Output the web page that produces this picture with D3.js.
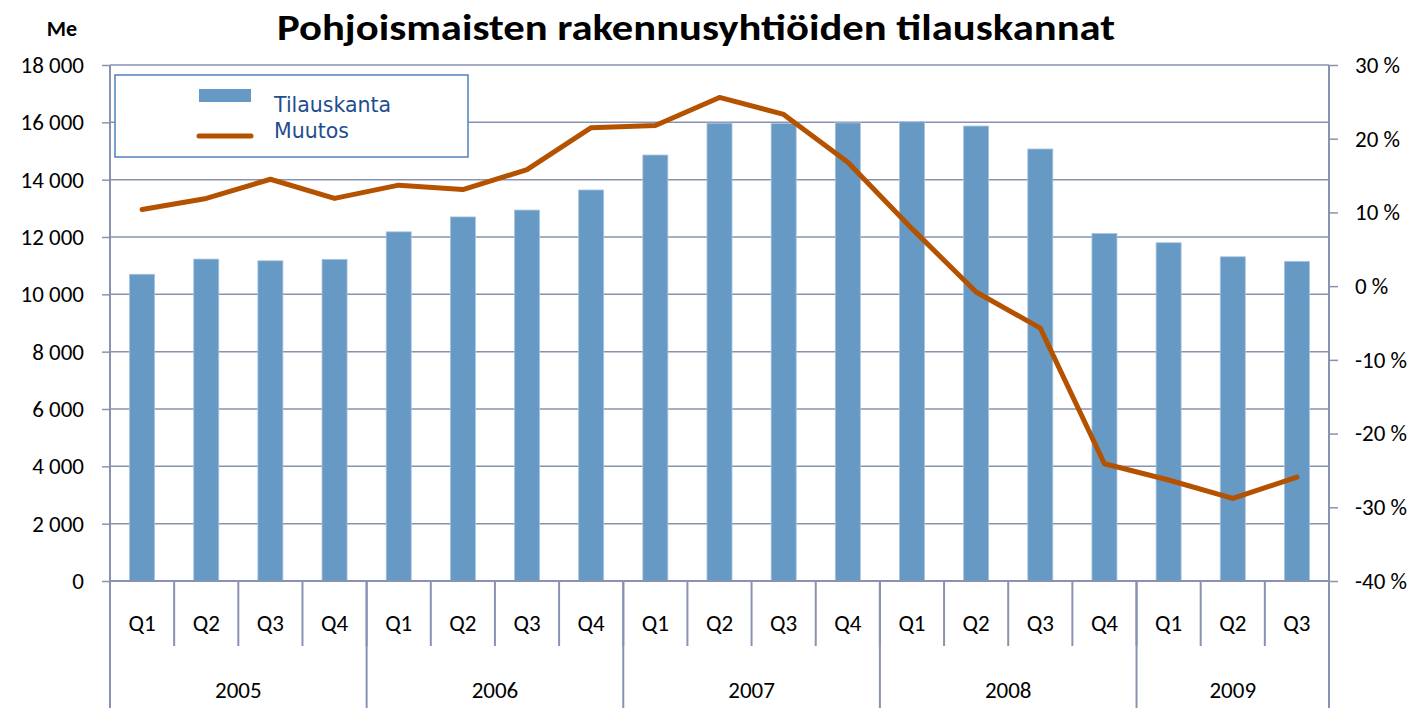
<!DOCTYPE html>
<html>
<head>
<meta charset="utf-8">
<script src="https://cdnjs.cloudflare.com/ajax/libs/d3/7.8.5/d3.min.js"></script>
<style>
  html, body { margin: 0; padding: 0; background: #fff; }
  svg { display: block; }
  text { font-family: Carlito, Lato, "Open Sans", sans-serif; fill: #000; }
</style>
</head>
<body>
<svg id="chart" width="1418" height="708"></svg>
<script>
const quarters = ["Q1","Q2","Q3","Q4","Q1","Q2","Q3","Q4","Q1","Q2","Q3","Q4","Q1","Q2","Q3","Q4","Q1","Q2","Q3"];
const years = ["2005","2006","2007","2008","2009"];
const quartersPerYear = [4,4,4,4,3];
const tilauskanta = [10700,11230,11170,11220,12180,12700,12940,13640,14860,15970,15960,15980,16020,15870,15070,12120,11800,11310,11150];
const muutos = [10.4,11.9,14.5,11.9,13.7,13.1,15.8,21.5,21.8,25.6,23.3,16.8,7.8,-0.8,-5.7,-24.1,-26.3,-28.8,-25.9];
const leftTicks = [0,2000,4000,6000,8000,10000,12000,14000,16000,18000];
const rightTicks = [-40,-30,-20,-10,0,10,20,30];
const seriesNames = ["Tilauskanta","Muutos"];
const title = "Pohjoismaisten rakennusyhtiöiden tilauskannat";
const unitLabel = "Me";

const svg = d3.select("#chart");
const L = 110, R = 1329, T = 65, B = 581;
const gridColor = "#8a92b2";
const barColor = "#6699c4";
const lineColor = "#b55200";
const tickFont = 23;

const idx = d3.range(quarters.length);
const x = d3.scaleBand().domain(idx).range([L, R]).padding(0);
const yL = d3.scaleLinear().domain([0, 18000]).range([B, T]);
const yR = d3.scaleLinear().domain([-40, 30]).range([B, T]);

const fmtThousands = d => d3.format(",")(d).replace(/,/g, " ");

// gridlines
svg.append("g").selectAll("line").data(leftTicks).join("line")
  .attr("x1", L).attr("x2", R)
  .attr("y1", d => yL(d)).attr("y2", d => yL(d))
  .attr("stroke", gridColor).attr("stroke-width", 1.5);

// bars
const bw = x.bandwidth() * 0.39;
svg.append("g").selectAll("rect").data(tilauskanta).join("rect")
  .attr("x", (d, i) => x(i) + x.bandwidth() / 2 - bw / 2)
  .attr("width", bw)
  .attr("y", d => yL(d))
  .attr("height", d => yL(0) - yL(d))
  .attr("fill", barColor)
  .attr("stroke", "#a9c4e0").attr("stroke-width", 0.8);

// left axis
const axL = svg.append("g").attr("transform", `translate(${L},0)`)
  .call(d3.axisLeft(yL).tickValues(leftTicks).tickSize(8).tickPadding(18).tickFormat(fmtThousands));
axL.select(".domain").remove();
axL.selectAll(".tick line").attr("stroke", gridColor).attr("stroke-width", 1.5);
axL.selectAll(".tick text").attr("font-size", tickFont).attr("font-family", "Carlito, Lato, 'Open Sans', sans-serif").attr("fill", "#000");

// right axis
const axR = svg.append("g").attr("transform", `translate(${R},0)`)
  .call(d3.axisRight(yR).tickValues(rightTicks).tickSize(9).tickPadding(17).tickFormat(d => d + " %"));
axR.select(".domain").remove();
axR.selectAll(".tick line").attr("stroke", gridColor).attr("stroke-width", 1.5);
axR.selectAll(".tick text").attr("font-size", tickFont).attr("font-family", "Carlito, Lato, 'Open Sans', sans-serif").attr("fill", "#000");

// vertical axis lines
svg.append("line").attr("x1", L).attr("x2", L).attr("y1", T).attr("y2", 708)
  .attr("stroke", gridColor).attr("stroke-width", 2);
svg.append("line").attr("x1", R).attr("x2", R).attr("y1", T).attr("y2", 708)
  .attr("stroke", gridColor).attr("stroke-width", 2);

// category axis baseline
svg.append("line").attr("x1", L).attr("x2", R).attr("y1", B).attr("y2", B)
  .attr("stroke", gridColor).attr("stroke-width", 2);

// quarter separators
svg.append("g").selectAll("line").data(idx.slice(1)).join("line")
  .attr("x1", d => x(d)).attr("x2", d => x(d))
  .attr("y1", B).attr("y2", 646)
  .attr("stroke", gridColor).attr("stroke-width", 2);

// quarter labels
svg.append("g").selectAll("text").data(quarters).join("text")
  .attr("x", (d, i) => x(i) + x.bandwidth() / 2)
  .attr("y", 631)
  .attr("text-anchor", "middle").attr("font-size", tickFont)
  .text(d => d);

// year separators and labels
let start = 0;
const yearInfo = years.map((yv, k) => {
  const s = start; start += quartersPerYear[k];
  return { year: yv, s: s, e: start };
});
svg.append("g").selectAll("line").data(yearInfo.slice(1)).join("line")
  .attr("x1", d => x(d.s)).attr("x2", d => x(d.s))
  .attr("y1", B).attr("y2", 708)
  .attr("stroke", gridColor).attr("stroke-width", 2);
svg.append("g").selectAll("text").data(yearInfo).join("text")
  .attr("x", d => (x(d.s) + (d.e >= quarters.length ? R : x(d.e))) / 2)
  .attr("y", 698)
  .attr("text-anchor", "middle").attr("font-size", tickFont)
  .text(d => d.year);

// line
const line = d3.line().x((d, i) => x(i) + x.bandwidth() / 2).y(d => yR(d));
svg.append("path").datum(muutos)
  .attr("d", line)
  .attr("fill", "none").attr("stroke", lineColor).attr("stroke-width", 5)
  .attr("stroke-linejoin", "round").attr("stroke-linecap", "round");

// legend
const lg = svg.append("g");
lg.append("rect").attr("x", 115).attr("y", 75).attr("width", 353).attr("height", 82)
  .attr("fill", "#fff").attr("stroke", "#4f81bd").attr("stroke-width", 1.5);
lg.append("rect").attr("x", 199).attr("y", 89).attr("width", 52).attr("height", 13).attr("fill", barColor);
lg.append("line").attr("x1", 199).attr("x2", 251).attr("y1", 136).attr("y2", 136)
  .attr("stroke", lineColor).attr("stroke-width", 5).attr("stroke-linecap", "round");
lg.selectAll("text.leg").data(seriesNames).join("text").attr("class", "leg")
  .attr("x", 274).attr("y", (d, i) => 112 + i * 26)
  .attr("font-size", 20.5)
  .style("font-family", "'DejaVu Sans', Verdana, sans-serif")
  .style("fill", "#1f4e8f")
  .text(d => d);

// title
svg.append("text").attr("x", 696).attr("y", 40)
  .attr("text-anchor", "middle").attr("font-size", 36).attr("font-weight", "bold")
  .attr("textLength", 838).attr("lengthAdjust", "spacingAndGlyphs")
  .text(title);
svg.append("text").attr("x", 62).attr("y", 36)
  .attr("text-anchor", "middle").attr("font-size", 22).attr("font-weight", "bold")
  .text(unitLabel);
</script>
</body>
</html>
